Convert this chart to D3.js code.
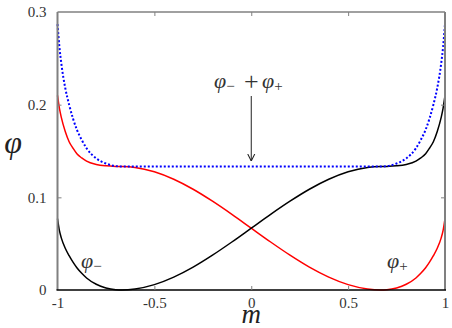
<!DOCTYPE html>
<html><head><meta charset="utf-8">
<script src="https://cdn.jsdelivr.net/npm/d3@7"></script>
<style>body{margin:0;background:#fff}svg{display:block}</style>
</head><body>
<script>
const mValues = [-1,-0.99,-0.98,-0.96,-0.94,-0.92,-0.90,-0.875,-0.85,-0.80,-0.75,-0.70,-0.667,
  -0.6,-0.5,-0.4,-0.3,-0.2,-0.1,0,0.1,0.2,0.3,0.4,0.5,0.6,
  0.667,0.70,0.75,0.80,0.85,0.875,0.90,0.92,0.94,0.96,0.98,0.99,1];
const phiMinus = [0.077,0.064,0.056,0.045,0.037,0.030,0.024,0.018,0.013,0.0062,0.0022,0.0003,0,
  0.0011,0.0058,0.0139,0.0247,0.0376,0.0518,0.0667,0.0816,0.0958,0.1087,0.1195,0.1276,0.1323,
  0.1333,0.1334,0.134,0.1355,0.139,0.1425,0.147,0.153,0.160,0.171,0.186,0.196,0.210];
const phiPlus = [0.210,0.196,0.186,0.171,0.160,0.153,0.147,0.1425,0.139,0.1355,0.134,0.1334,0.1333,
  0.1323,0.1276,0.1195,0.1087,0.0958,0.0816,0.0667,0.0518,0.0376,0.0247,0.0139,0.0058,0.0011,
  0,0.0003,0.0022,0.0062,0.013,0.018,0.024,0.030,0.037,0.045,0.056,0.064,0.077];
const phiSum = [0.287,0.262,0.244,0.218,0.200,0.185,0.173,0.162,0.153,0.142,0.1365,0.1337,0.1333,
  0.1333,0.1333,0.1333,0.1333,0.1333,0.1333,0.1333,0.1333,0.1333,0.1333,0.1333,0.1333,0.1333,
  0.1333,0.1337,0.1365,0.142,0.153,0.162,0.173,0.185,0.200,0.218,0.244,0.262,0.287];
const xTicks = [-1,-0.5,0,0.5,1];
const xTickLabels = ["-1","-0.5","0","0.5","1"];
const yTicks = [0,0.1,0.2,0.3];
const yTickLabels = ["0","0.1","0.2","0.3"];

const W = 452, H = 328;
const L = 57.5, R = 445, T = 12, B = 290;
const svg = d3.select("body").append("svg").attr("width", W).attr("height", H);
const x = d3.scaleLinear().domain([-1, 1]).range([L, R]);
const y = d3.scaleLinear().domain([0, 0.3]).range([B, T]);

const font = "'Liberation Serif', serif";
const gray = "#808080";

function draw(vals, color, dash, w) {
  const line = d3.line().x((d, i) => x(mValues[i])).y(d => y(d)).curve(d3.curveMonotoneX);
  svg.append("path").attr("d", line(vals)).attr("fill", "none")
    .attr("stroke", color).attr("stroke-width", w)
    .attr("stroke-dasharray", dash || null);
}
draw(phiPlus, "#ff0000", null, 1.5);
draw(phiMinus, "#000000", null, 1.5);
draw(phiSum, "#0000ff", "2,2", 2);

svg.append("line").attr("x1", L).attr("x2", L).attr("y1", T).attr("y2", B).attr("stroke", gray).attr("stroke-width", 2);
svg.append("line").attr("x1", R).attr("x2", R).attr("y1", T).attr("y2", B).attr("stroke", gray).attr("stroke-width", 2);
svg.append("line").attr("x1", L).attr("x2", R).attr("y1", T).attr("y2", T).attr("stroke", gray).attr("stroke-width", 1.5);
svg.append("line").attr("x1", L - 1).attr("x2", R + 1).attr("y1", B).attr("y2", B).attr("stroke", "#000").attr("stroke-width", 1.5);

const xAxisB = d3.axisBottom(x).tickValues(xTicks).tickFormat((d, i) => xTickLabels[i]).tickSize(-4).tickPadding(7);
const gB = svg.append("g").attr("transform", `translate(0,${B})`).call(xAxisB);
const xAxisT = d3.axisTop(x).tickValues(xTicks.slice(1, -1)).tickFormat("").tickSize(-4);
const gT = svg.append("g").attr("transform", `translate(0,${T})`).call(xAxisT);
const yAxisL = d3.axisLeft(y).tickValues(yTicks).tickFormat((d, i) => yTickLabels[i]).tickSize(-4).tickPadding(11);
const gL = svg.append("g").attr("transform", `translate(${L},0)`).call(yAxisL);
const yAxisR = d3.axisRight(y).tickValues(yTicks.slice(1, -1)).tickFormat("").tickSize(-4);
const gR = svg.append("g").attr("transform", `translate(${R},0)`).call(yAxisR);
[gB, gT, gL, gR].forEach(g => {
  g.attr("font-family", null).attr("font-size", null);
  g.select(".domain").remove();
  g.selectAll(".tick line").attr("stroke", gray).attr("stroke-width", 1);
  g.selectAll("text").style("font-family", font).style("font-size", "15px").attr("fill", "#333");
});
gB.selectAll(".tick").filter(d => d === -1 || d === 1).select("line").remove();
gL.selectAll(".tick").filter(d => d === 0 || d === 0.3).select("line").remove();

svg.append("text").attr("x", x(0)).attr("y", 323).attr("text-anchor", "middle")
  .style("font-family", font).style("font-style", "italic").style("font-size", "27px").attr("fill", "#222").text("m");
svg.append("text").attr("x", 13).attr("y", 153).attr("text-anchor", "middle")
  .style("font-family", font).style("font-style", "italic").style("font-size", "32px").attr("fill", "#222").text("φ");

function phiLabel(px, py, sub) {
  const t = svg.append("text").attr("x", px).attr("y", py).style("font-family", font)
    .style("font-size", "22px").attr("fill", "#333");
  t.append("tspan").style("font-style", "italic").text("φ");
  t.append("tspan").style("font-size", "15px").attr("dy", 3).text(sub);
  return t;
}
phiLabel(81, 268, "−");
phiLabel(387, 268, "+");
phiLabel(214, 88, "−");
phiLabel(262, 88, "+");
svg.append("text").attr("x", x(0)).attr("y", 90).attr("text-anchor", "middle")
  .style("font-family", font).style("font-size", "26px").attr("fill", "#333").text("+");

svg.append("defs").append("marker").attr("id", "ah").attr("viewBox", "0 0 10 10")
  .attr("refX", 10).attr("refY", 5).attr("markerWidth", 7).attr("markerHeight", 9)
  .attr("markerUnits", "userSpaceOnUse").attr("orient", "auto")
  .append("path").attr("d", "M0,0 L10,5 L0,10").attr("fill", "none").attr("stroke", "#222").attr("stroke-width", 1.5);
svg.append("line").attr("x1", x(0)).attr("x2", x(0)).attr("y1", 96).attr("y2", 161)
  .attr("stroke", "#222").attr("stroke-width", 1).attr("marker-end", "url(#ah)");
</script>
</body></html>
